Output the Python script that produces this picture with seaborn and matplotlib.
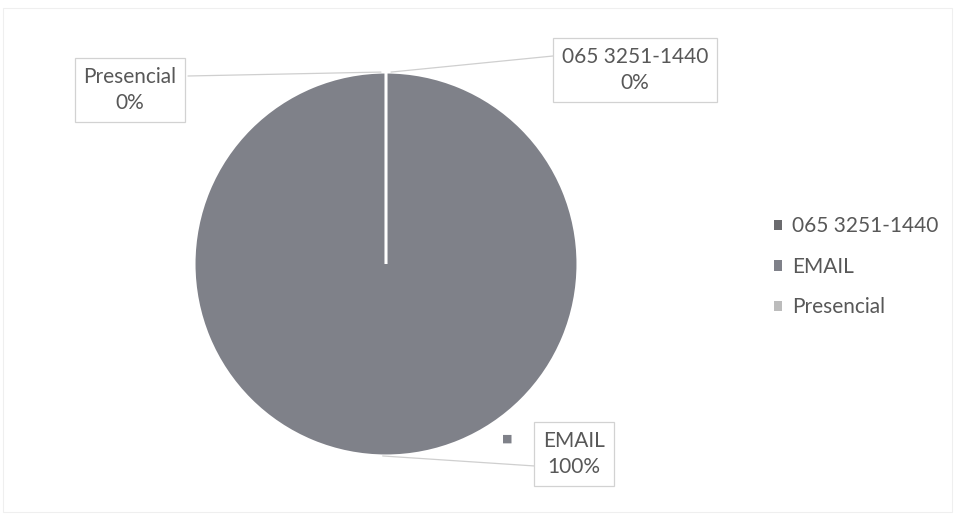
import numpy as np
import matplotlib
matplotlib.use("Agg")
import matplotlib.pyplot as plt
from matplotlib.patches import Rectangle
import seaborn as sns

# Data
categories = ["065 3251-1440", "EMAIL", "Presencial"]
values = [0, 100, 0]
slice_colors = ["#6b6b6e", "#7f8189", "#bcbcbc"]

sns.set_theme(style="white")
plt.rcParams["font.family"] = ["Lato", "DejaVu Sans"]
text_color = "#585858"

W, H = 955, 515
fig = plt.figure(figsize=(W / 100, H / 100), dpi=100)
# one axes in pixel units over the whole figure
ax = fig.add_axes([0, 0, 1, 1])

center = (386, H - 264)
radius = 192
palette = sns.color_palette(slice_colors)

wedges, _ = ax.pie(
    values,
    colors=palette,
    startangle=90,
    counterclock=False,
    center=center,
    radius=radius,
    wedgeprops=dict(edgecolor="white", linewidth=2.2),
)
ax.set_xlim(0, W)
ax.set_ylim(0, H)
ax.set_aspect("equal")
ax.axis("off")

# data labels: category + percentage, boxed, with leader lines to the pie
total = sum(values)
pct = [f"{v / total:.0%}" for v in values]

# label box centre (pixels from top-left) and the angle where the leader touches the pie
label_pos = {
    "065 3251-1440": (635, 70, 88.5),
    "EMAIL": (574, 454, -91),
    "Presencial": (130, 90, 91.5),
}
leader_end = {
    "065 3251-1440": (553, 56),
    "EMAIL": (535, 466),
    "Presencial": (188, 76),
}

box = dict(boxstyle="square,pad=0.42", facecolor="white",
           edgecolor="#d2d2d2", linewidth=0.9)

for cat, p in zip(categories, pct):
    lx, ly, ang = label_pos[cat]
    px = center[0] + radius * np.cos(np.radians(ang))
    py = center[1] + radius * np.sin(np.radians(ang))
    ex, ey = leader_end[cat]
    ax.plot([px, ex], [py, H - ey], color="#cfcfcf", linewidth=0.9, zorder=1)
    ax.text(lx, H - ly, f"{cat}\n{p}", ha="center", va="center",
            fontsize=15, color=text_color, linespacing=1.4,
            bbox=box, zorder=3)

# legend key shown inside the EMAIL label
ax.text(507, H - 439, "\u25a0", ha="center", va="center", fontsize=8,
        color=slice_colors[1], family=["DejaVu Sans"])

leg = ax.legend(
    wedges, categories,
    loc="upper left",
    bbox_to_anchor=(764 / W, 1 - 206 / H),
    bbox_transform=fig.transFigure,
    frameon=False,
    fontsize=15,
    handlelength=0.38,
    handleheight=0.38,
    handletextpad=0.45,
    labelspacing=0.98,
    borderpad=0,
)
for t in leg.get_texts():
    t.set_color(text_color)
for h in leg.legend_handles:
    h.set_edgecolor("none")

# faint chart frame
fig.patches.append(Rectangle((3 / W, 3 / H), 949 / W, 504 / H,
                             transform=fig.transFigure, fill=False,
                             edgecolor="#efefef", linewidth=0.8))

fig.savefig("out.png", dpi=100, facecolor="white")
